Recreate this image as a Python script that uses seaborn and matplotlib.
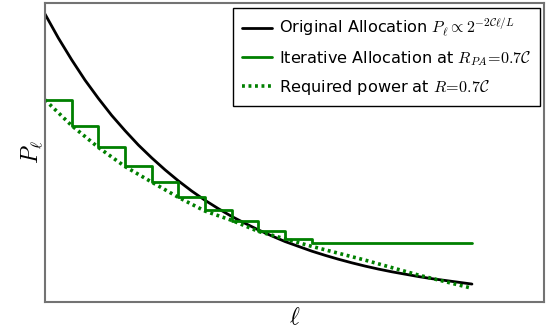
import numpy as np
import pandas as pd
import seaborn as sns
import matplotlib
matplotlib.use("Agg")
import matplotlib.pyplot as plt

# ---- data ----
ell_fine = [0, 0.5, 1, 1.5, 2, 2.5, 3, 3.5, 4, 4.5, 5, 5.5, 6, 6.5, 7, 7.5, 8,
            8.5, 9, 9.5, 10, 10.5, 11, 11.5, 12, 12.5, 13, 13.5, 14, 14.5, 15, 15.5, 16]
original = [0.963, 0.883, 0.810, 0.742, 0.681, 0.624, 0.573, 0.525, 0.482, 0.442,
            0.405, 0.371, 0.340, 0.312, 0.286, 0.263, 0.241, 0.221, 0.202, 0.186,
            0.170, 0.156, 0.143, 0.131, 0.120, 0.110, 0.101, 0.093, 0.085, 0.078,
            0.072, 0.066, 0.060]

ell = list(range(17))
iterative = [0.676, 0.590, 0.519, 0.454, 0.401, 0.350, 0.308, 0.272, 0.237,
             0.210, 0.196, 0.196, 0.196, 0.196, 0.196, 0.196, 0.196]
required = [0.676, 0.590, 0.517, 0.453, 0.401, 0.350, 0.304, 0.273, 0.236,
            0.211, 0.186, 0.163, 0.140, 0.115, 0.090, 0.068, 0.046]

labels = [r"Original Allocation $P_\ell \propto 2^{-2\mathcal{C}\ell/L}$",
          r"Iterative Allocation at $R_{PA}\!=\!0.7\mathcal{C}$",
          r"Required power at $R\!=\!0.7\mathcal{C}$"]

sns.set_style("white")
plt.rcParams["font.family"] = ["DejaVu Sans"]
plt.rcParams["mathtext.fontset"] = "cm"
plt.rcParams["text.color"] = "black"
plt.rcParams["axes.labelcolor"] = "black"

fig = plt.figure(figsize=(5.48, 3.32), dpi=100)
ax = fig.add_axes([45 / 548, 1 - 302 / 332, 499 / 548, 299 / 332])

df_o = pd.DataFrame({"ell": ell_fine, "P": original})
df_i = pd.DataFrame({"ell": ell, "P": iterative})
df_r = pd.DataFrame({"ell": ell, "P": required})

green = "#008000"
sns.lineplot(data=df_o, x="ell", y="P", ax=ax, color="black", lw=2, label=labels[0])
sns.lineplot(data=df_i, x="ell", y="P", ax=ax, color=green, lw=2,
             drawstyle="steps-post", label=labels[1])
sns.lineplot(data=df_r, x="ell", y="P", ax=ax, color=green, lw=2.6,
             linestyle=(0, (0.8, 1.0)), label=labels[2])

ax.set_xlim(0, 18.7)
ax.set_ylim(0, 1.0)
ax.set_xticks([])
ax.set_yticks([])
ax.set_xlabel(r"$\ell$", fontsize=17, labelpad=2)
ax.set_ylabel(r"$P_\ell$", fontsize=17, labelpad=0)
for s in ax.spines.values():
    s.set_color("0.45")
    s.set_linewidth(1.5)

leg = ax.legend(loc="upper right", bbox_to_anchor=(0.992, 0.983), borderaxespad=0,
                fontsize=11.6, frameon=True, fancybox=False, framealpha=1,
                edgecolor="black", handlelength=1.9, handletextpad=0.4,
                labelspacing=0.62, borderpad=0.55)
leg.get_frame().set_linewidth(1.0)

fig.savefig("out.png", dpi=100)
